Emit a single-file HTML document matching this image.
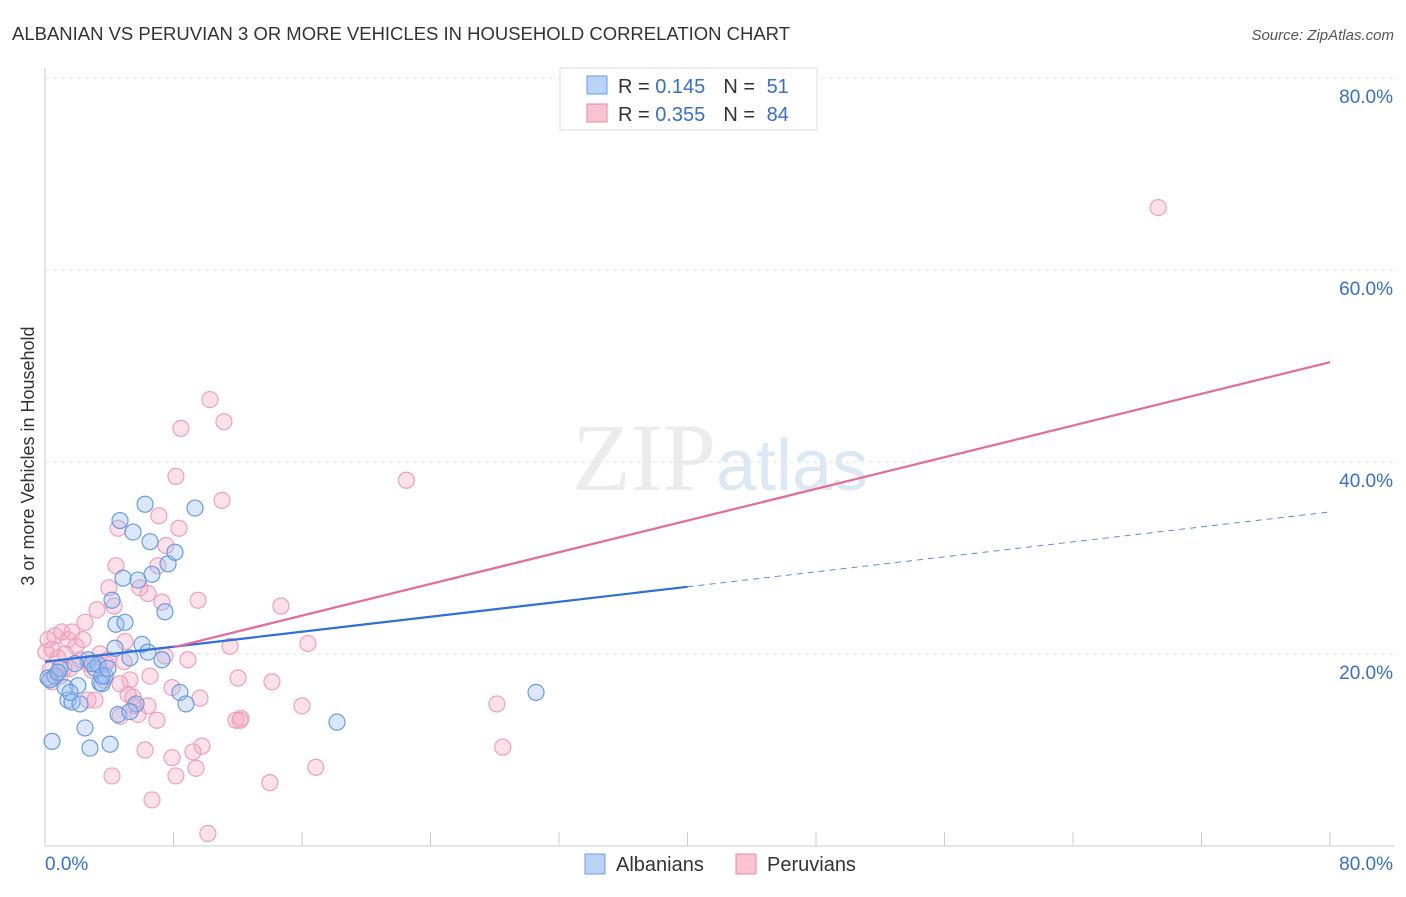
<!DOCTYPE html>
<html><head><meta charset="utf-8"><style>
body{margin:0;background:#fff;font-family:"Liberation Sans",sans-serif;}
</style></head><body>
<svg id="c" width="1406" height="892" xmlns="http://www.w3.org/2000/svg">
<text x="12" y="40" font-size="18" fill="#333" textLength="778" lengthAdjust="spacingAndGlyphs">ALBANIAN VS PERUVIAN 3 OR MORE VEHICLES IN HOUSEHOLD CORRELATION CHART</text>
<text x="1394" y="40" font-size="15" fill="#555" font-style="italic" text-anchor="end">Source: ZipAtlas.com</text>
<text x="720" y="490" font-size="96" fill="#ececec" text-anchor="middle" font-family="Liberation Serif">ZIP<tspan fill="#dde8f5" font-family="Liberation Sans" font-size="72">atlas</tspan></text>
<g id="grid"></g>
<g id="marks"></g>
<text transform="translate(34,456) rotate(-90)" font-size="18" fill="#333" text-anchor="middle">3 or more Vehicles in Household</text>
<g>
<rect x="560" y="68" width="257" height="62" fill="#fff" stroke="#ddd"/>
<rect x="587" y="76" width="20" height="18" fill="#b9d3f7" stroke="#6a9be0"/>
<rect x="587" y="104" width="20" height="18" fill="#f9c3d3" stroke="#e98aab"/>
<text x="618" y="93" font-size="20" fill="#333">R = <tspan fill="#3670c8">0.145</tspan><tspan dx="18">N = </tspan><tspan fill="#3670c8" dx="6">51</tspan></text>
<text x="618" y="121" font-size="20" fill="#333">R = <tspan fill="#3670c8">0.355</tspan><tspan dx="18">N = </tspan><tspan fill="#3670c8" dx="6">84</tspan></text>
</g>
<g>
<rect x="585" y="854" width="20" height="20" fill="#b9d3f7" stroke="#6a9be0"/>
<text x="616" y="871" font-size="20" fill="#333">Albanians</text>
<rect x="736" y="854" width="20" height="20" fill="#f9c3d3" stroke="#e98aab"/>
<text x="767" y="871" font-size="20" fill="#333">Peruvians</text>
</g>
</svg>
<script>
const yTicks=[20,40,60,80];
const xTickLabels=["0.0%","80.0%"];
const albX=[0.44,0.19,0.62,0.93,1.25,1.43,1.68,2.05,2.18,2.49,2.68,2.8,3.11,3.3,3.42,3.55,3.74,4.05,4.17,4.36,4.42,4.55,4.67,4.86,4.98,5.29,5.48,5.67,5.79,6.04,6.23,6.41,6.54,6.66,7.28,7.47,7.66,8.09,8.4,8.78,9.34,18.18,30.57,0.31,0.81,1.87,2.93,3.55,3.92,5.29,1.56];
const albY=[10.9,17.5,17.7,18.5,16.5,15.2,15.0,16.7,14.8,12.3,19.4,10.2,18.5,18.9,17.0,16.9,17.7,10.6,25.6,20.6,23.1,13.7,33.9,27.9,23.3,19.6,32.7,14.8,27.7,21.0,35.6,20.2,31.7,28.3,19.4,24.4,29.4,30.6,16.0,14.8,35.2,12.9,16.0,17.3,18.1,19.0,19.0,17.7,18.5,14.0,16.0];
const perX=[69.3,22.5,10.27,11.14,8.46,8.15,11.02,4.55,7.09,8.34,7.53,4.42,7.03,3.98,5.91,6.41,7.28,9.53,14.69,3.24,4.3,16.37,11.52,0.19,0.62,1.06,1.43,1.68,1.93,2.49,0.44,0.81,1.25,2.18,2.68,2.93,3.42,3.8,4.92,5.29,5.17,6.54,7.47,8.9,0.44,0.93,1.56,2.68,3.67,4.67,5.48,5.79,6.41,6.97,7.91,9.65,12.02,14.13,16.0,12.2,11.89,28.13,28.5,6.23,7.91,8.15,9.4,9.77,9.21,4.17,6.66,10.14,14.0,16.86,4.67,3.11,1.18,2.37,0.31,0.06,3.92,5.54,12.14,4.98];
const perY=[66.5,38.1,46.5,44.2,43.5,38.5,36.0,33.1,34.4,33.1,31.3,29.2,29.2,26.9,26.9,26.3,25.4,25.6,25.0,24.6,25.0,21.1,20.8,21.5,21.9,22.3,21.5,22.3,20.8,23.3,20.5,19.6,20.0,19.4,19.0,18.3,20.0,19.0,19.2,17.3,15.8,17.7,19.8,19.4,17.1,17.7,18.5,15.2,17.3,16.9,15.5,13.7,14.6,13.1,16.5,15.4,17.5,17.1,14.6,13.3,13.1,14.8,10.3,10.0,9.2,7.3,8.1,10.4,9.8,7.3,4.8,1.3,6.6,8.2,13.5,15.2,18.5,21.5,18.3,20.2,19.4,14.6,13.1,21.3];
const X=v=>45+v/80*1285, Y=v=>846-v/20*192;
const NS="http://www.w3.org/2000/svg";
function mk(p,t,a){const e=document.createElementNS(NS,t);for(const k in a)e.setAttribute(k,a[k]);p.appendChild(e);return e;}
const g=document.getElementById('grid'), m=document.getElementById('marks');
let e=mk(g,'line',{x1:45,y1:68,x2:45,y2:846,stroke:'#ccc'});


e=mk(g,'line',{x1:45,y1:846,x2:1394,y2:846,stroke:'#ccc'});


for(let i=0;i<=10;i++){const x=X(i*8);e=mk(g,'line',{x1:x,y1:832,x2:x,y2:846,stroke:'#ccc'});

}
yTicks.forEach(t=>{e=mk(g,'line',{x1:45,y1:Y(t),x2:1394,y2:Y(t),stroke:'#e2e2e2','stroke-dasharray':'4,4'});


e=mk(g,'text',{x:1393,y:Y(t)+25,'font-size':19,fill:'#3670c8','text-anchor':'end'});e.textContent=t.toFixed(1)+'%';

});
e=mk(g,'text',{x:45,y:870,'font-size':19,fill:'#3670c8'});e.textContent=xTickLabels[0];


e=mk(g,'text',{x:1393,y:870,'font-size':19,fill:'#3670c8','text-anchor':'end'});e.textContent=xTickLabels[1];


perX.forEach((v,i)=>{e=mk(m,'circle',{cx:X(v),cy:Y(perY[i]),r:8,fill:'rgba(246,170,195,0.35)',stroke:'#eda0ba','stroke-width':1.2});

});
albX.forEach((v,i)=>{e=mk(m,'circle',{cx:X(v),cy:Y(albY[i]),r:8,fill:'rgba(150,190,240,0.35)',stroke:'#6a9be0','stroke-width':1.2});

});
const blueFit=[19.2,(27.0-19.2)/40], pinkFit=[17.4,(50.4-17.4)/80];
e=mk(m,'line',{x1:X(0),y1:Y(blueFit[0]),x2:X(40),y2:Y(blueFit[0]+blueFit[1]*40),stroke:'#2f6fd6','stroke-width':2.2});


e=mk(m,'line',{x1:X(40),y1:Y(blueFit[0]+blueFit[1]*40),x2:X(80),y2:Y(blueFit[0]+blueFit[1]*80),stroke:'#5a8ede','stroke-width':1,'stroke-dasharray':'6,5'});


e=mk(m,'line',{x1:X(8),y1:Y(pinkFit[0]+pinkFit[1]*8),x2:X(80),y2:Y(pinkFit[0]+pinkFit[1]*80),stroke:'#e66b98','stroke-width':2.2});


</script>
</body></html>
